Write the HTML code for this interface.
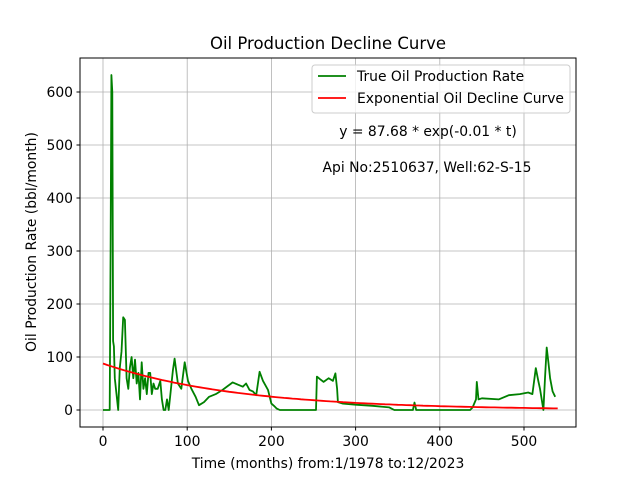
<!DOCTYPE html>
<html><head><meta charset="utf-8"><style>
body{margin:0;background:#fff}
svg{font-family:"DejaVu Sans","Liberation Sans",sans-serif}
</style></head><body>
<svg id="chart" width="640" height="480" viewBox="0 0 640 480">
<rect x="0" y="0" width="640" height="480" fill="#fff"/>
<g id="grid"></g>
<g id="series"></g>
<rect x="80" y="58" width="496" height="369" fill="none" stroke="#000" stroke-width="1"/>
<g id="ticks"></g>
<text x="328" y="49" text-anchor="middle" font-size="16.5">Oil Production Decline Curve</text>
<text x="328" y="468" text-anchor="middle" font-size="13.9">Time (months) from:1/1978 to:12/2023</text>
<text transform="translate(36,242) rotate(-90)" text-anchor="middle" font-size="13.9">Oil Production Rate (bbl/month)</text>
<text x="428" y="136" text-anchor="middle" font-size="13.9">y = 87.68 * exp(-0.01 * t)</text>
<text x="427" y="172" text-anchor="middle" font-size="13.9">Api No:2510637, Well:62-S-15</text>
<g>
<rect x="312" y="65" width="258" height="48" rx="3" fill="#fff" fill-opacity="0.8" stroke="#ccc"/>
<line x1="318" y1="76" x2="346" y2="76" stroke="green" stroke-width="1.8"/>
<text x="357" y="81" font-size="13.9">True Oil Production Rate</text>
<line x1="318" y1="98" x2="346" y2="98" stroke="red" stroke-width="1.8"/>
<text x="357" y="103" font-size="13.9">Exponential Oil Decline Curve</text>
</g>
</svg>
<script>
const months=[0,8,9,10,11,12,13,14,16,18,20,22,24,26,28,30,32,34,36,38,40,42,44,46,48,50,52,54,56,58,60,62,65,68,70,72,74,76,78,80,83,85,89,93,97,101,105,110,114,120,126,134,142,148,154,160,166,170,174,178,182,186,190,196,200,203,206,210,253,254,258,262,268,273,276,278,279,285,300,320,340,346,368,370,372,436,439,443,444,446,450,470,482,495,505,510,514,517,519,521,523,525,527,529,531,534,537];
const rates=[0,0,300,632,600,130,120,60,30,0,80,110,175,170,60,40,80,100,60,95,50,70,20,90,40,60,30,70,70,30,50,40,40,55,20,0,0,20,0,30,75,97,50,40,90,55,40,25,9,15,25,30,38,45,52,48,44,50,38,35,28,72,55,38,12,8,3,0,0,63,58,53,60,55,69,40,15,12,10,8,5,0,0,14,0,0,5,20,53,20,22,20,28,30,33,30,79,55,40,20,0,60,118,90,60,35,25];
const fitA=87.68, fitK=0.00624, fitTmax=540;
const xTicks=[0,100,200,300,400,500];
const yTicks=[0,100,200,300,400,500,600];
const X=t=>103+t*0.842, Y=v=>410-v*0.53;
const NS='http://www.w3.org/2000/svg';
function mk(tag,attrs,parent){const e=document.createElementNS(NS,tag);for(const k in attrs)e.setAttribute(k,attrs[k]);parent.appendChild(e);return e;}
const grid=document.getElementById('grid'),ticks=document.getElementById('ticks'),ser=document.getElementById('series');
xTicks.forEach(t=>{
 const g=mk('line',{x1:X(t),x2:X(t),y1:58,y2:427,stroke:'#b0b0b0','stroke-width':0.8},grid);
 
 
 const tk=mk('line',{x1:X(t),x2:X(t),y1:427,y2:430.5,stroke:'#000'},ticks);
 
 
 const l=mk('text',{x:X(t),y:446,'text-anchor':'middle','font-size':13.9},ticks);l.textContent=t;
 
 
});
yTicks.forEach(v=>{
 const g=mk('line',{x1:80,x2:576,y1:Y(v),y2:Y(v),stroke:'#b0b0b0','stroke-width':0.8},grid);
 
 
 const tk=mk('line',{x1:76.5,x2:80,y1:Y(v),y2:Y(v),stroke:'#000'},ticks);
 
 
 const l=mk('text',{x:73,y:Y(v)+5,'text-anchor':'end','font-size':13.9},ticks);l.textContent=v;
 
 
});
const tp=months.map((t,i)=>X(t).toFixed(1)+','+Y(rates[i]).toFixed(1)).join(' ');
const pl=mk('polyline',{points:tp,fill:'none',stroke:'green','stroke-width':1.8,'stroke-linejoin':'round'},ser);


const fp=[];for(let t=0;t<=fitTmax;t+=5)fp.push(X(t).toFixed(1)+','+Y(fitA*Math.exp(-fitK*t)).toFixed(1));
const fl=mk('polyline',{points:fp.join(' '),fill:'none',stroke:'red','stroke-width':1.8},ser);


</script>
</body></html>
